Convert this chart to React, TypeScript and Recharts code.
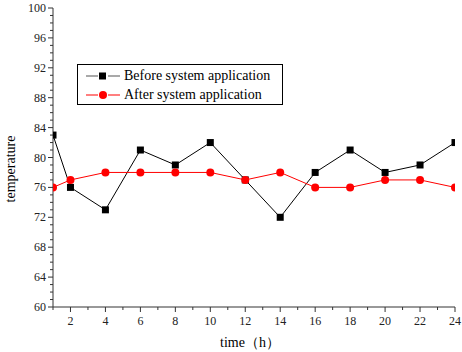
import React from 'react';
import { LineChart, Line, XAxis, YAxis } from 'recharts';

const hours = [1, 2, 4, 6, 8, 10, 12, 14, 16, 18, 20, 22, 24];
const beforeValues = [83, 76, 73, 81, 79, 82, 77, 72, 78, 81, 78, 79, 82];
const afterValues = [76, 77, 78, 78, 78, 78, 77, 78, 76, 76, 77, 77, 76];
const xMinorTicks = Array.from({ length: 24 }, (_, i) => i + 1);
const yMinorTicks = Array.from({ length: 41 }, (_, i) => 60 + i);
const seriesNames = ['Before system application', 'After system application'];

const data = hours.map((h, i) => ({ h, before: beforeValues[i], after: afterValues[i] }));

const FONT = '"Liberation Serif", "Times New Roman", serif';

const XTick = (props: any) => {
  const { x, y, payload } = props;
  const v = payload.value;
  const major = v % 2 === 0;
  return (
    <g>
      <line x1={x} x2={x} y1={y} y2={y + (major ? 5 : 3)} stroke="#333" strokeWidth={1} />
      {major && (
        <text x={x} y={y + 18} textAnchor="middle" fontSize={12} fontFamily={FONT} fill="#222">
          {v}
        </text>
      )}
    </g>
  );
};

const YTick = (props: any) => {
  const { x, y, payload } = props;
  const v = payload.value;
  const major = v % 4 === 0;
  return (
    <g>
      <line x1={x} x2={x - (major ? 5 : 3)} y1={y} y2={y} stroke="#333" strokeWidth={1} />
      {major && (
        <text x={x - 7} y={y + 4} textAnchor="end" fontSize={12} fontFamily={FONT} fill="#222">
          {v}
        </text>
      )}
    </g>
  );
};

const Square = (props: any) => {
  const { cx, cy } = props;
  return <rect x={cx - 3.5} y={cy - 3.5} width={7} height={7} fill="#000" />;
};

export default function App() {
  return (
    <div style={{ position: 'absolute', left: 0, top: 0, width: 462, height: 352, background: '#fff' }}>
      <LineChart width={462} height={352} data={data} margin={{ top: 8, right: 7, bottom: 5, left: 13 }}>
        <XAxis
          dataKey="h"
          type="number"
          domain={[1, 24]}
          ticks={xMinorTicks}
          interval={0}
          tickSize={0}
          tickMargin={0}
          tickLine={false}
          tick={<XTick />}
          stroke="#333"
          height={40}
          allowDataOverflow
        />
        <YAxis
          type="number"
          domain={[60, 100]}
          ticks={yMinorTicks}
          interval={0}
          tickSize={0}
          tickMargin={0}
          tickLine={false}
          tick={<YTick />}
          stroke="#333"
          width={40}
          allowDataOverflow
        />
        <Line
          dataKey="before"
          name={seriesNames[0]}
          stroke="#000"
          strokeWidth={1}
          dot={<Square />}
          isAnimationActive={false}
        />
        <Line
          dataKey="after"
          name={seriesNames[1]}
          stroke="#ff0000"
          strokeWidth={1}
          dot={{ r: 4, fill: '#ff0000', stroke: '#ff0000', strokeWidth: 0 }}
          isAnimationActive={false}
        />
        <text x={12} y={169} transform="rotate(-90 12 169)" textAnchor="middle" dominantBaseline="middle" fontSize={14} fontFamily={FONT} fill="#000">
          temperature
        </text>
        <text x={250} y={347} textAnchor="middle" fontSize={14} fontFamily={FONT} fill="#000">
          time（h）
        </text>
      </LineChart>
      <div
        style={{
          position: 'absolute',
          left: 77,
          top: 64,
          width: 204,
          height: 39,
          border: '1px solid #000',
          fontFamily: FONT,
          fontSize: 14,
          color: '#000',
          background: '#fff',
          boxSizing: 'content-box',
        }}
      >
        <div style={{ display: 'flex', alignItems: 'center', height: 19, marginTop: 1 }}>
          <svg width={40} height={12} style={{ marginLeft: 8 }}>
            <line x1={0} x2={34} y1={6} y2={6} stroke="#555" strokeWidth={1.2} />
            <line x1={12} x2={22} y1={6} y2={6} stroke="#fff" strokeWidth={2} />
            <rect x={13} y={2.5} width={7} height={7} fill="#000" />
          </svg>
          <span style={{ marginLeft: -2 }}>{seriesNames[0]}</span>
        </div>
        <div style={{ display: 'flex', alignItems: 'center', height: 19 }}>
          <svg width={40} height={12} style={{ marginLeft: 8 }}>
            <line x1={0} x2={34} y1={6} y2={6} stroke="#ff0000" strokeWidth={1.2} />
            <line x1={12} x2={22} y1={6} y2={6} stroke="#fff" strokeWidth={2} />
            <circle cx={17} cy={6} r={4} fill="#ff0000" />
          </svg>
          <span style={{ marginLeft: -2 }}>{seriesNames[1]}</span>
        </div>
      </div>
    </div>
  );
}
